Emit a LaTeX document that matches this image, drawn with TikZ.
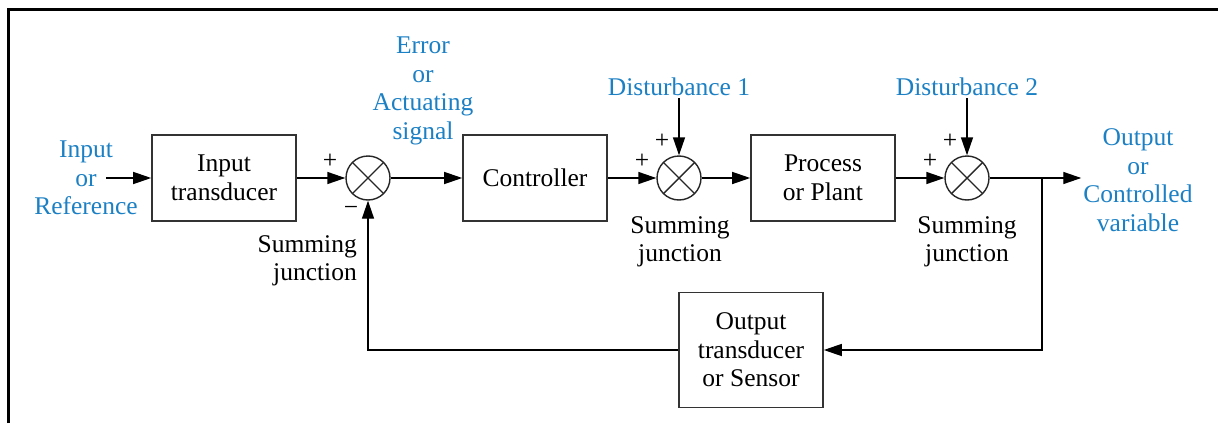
\documentclass[tikz,border=0pt]{standalone}
\usepackage{fontspec}
\setmainfont{Liberation Serif}
\usetikzlibrary{arrows.meta,positioning}
\definecolor{sigblue}{RGB}{28,128,196}

\tikzset{
  blk/.style={draw=black!80,line width=1.6pt,minimum width=144pt,minimum height=86pt,align=center,inner sep=0pt},
  sumj/.style={circle,draw=black!85,line width=1.4pt,minimum size=44pt,inner sep=0pt,
    path picture={\draw[line width=1.4pt] (path picture bounding box.north west)--(path picture bounding box.south east)
      (path picture bounding box.north east)--(path picture bounding box.south west);}},
  sig/.style={text=sigblue,align=center,inner sep=2pt},
  wire/.style={line width=1.4pt,-{Triangle[length=18pt,width=12pt]}}
}

\begin{document}
\begin{tikzpicture}[x=1pt,y=-1pt,font=\fontsize{25.5}{28.5}\selectfont]
\useasboundingbox (0,0) rectangle (1218,423);
\draw[line width=3pt] (8,423) -- (8,9) -- (1218,9);
% forward path
\node[blk] (itr) at (224,178) {Input\\transducer};
\node[sumj] (s1) at (368,178) {};
\node[blk] (ctl) at (535,178) {Controller};
\node[sumj] (s2) at (679,178) {};
\node[blk] (plant) at (823,178) {Process\\or Plant};
\node[sumj] (s3) at (967,178) {};
\node[blk,minimum height=115pt] (sens) at (751,350) {Output\\transducer\\or Sensor};
% blue signal names
\node[sig] (inp) at (86,178) {Input\\or\\Reference};
\node[sig] (err) at (423,91) {Error\\or\\Actuating\\signal};
\node[sig] (d1) at (679,87) {Disturbance 1};
\node[sig] (d2) at (967,87) {Disturbance 2};
\node[sig] (out) at (1138,180) {Output\\or\\Controlled\\variable};
\coordinate (inx) at (106,178);
\coordinate (br) at (1042,178);
% junction names and signs
\node[align=right,anchor=east,inner sep=0pt] (sj1) at (357,261) {Summing\\junction};
\node[align=center] (sj2) at (680,242) {Summing\\junction};
\node[align=center] (sj3) at (967,242) {Summing\\junction};
\node (p1) at (330,161) {+};
\node (m1) at (351,211) {−};
\node (p2) at (642,161) {+};
\node (q2) at (662,141) {+};
\node (p3) at (930,161) {+};
\node (q3) at (950,141) {+};
% connectors
\draw[wire] (inx) -- (itr);
\draw[wire] (itr) -- (s1);
\draw[wire] (s1) -- (ctl);
\draw[wire] (ctl) -- (s2);
\draw[wire] (s2) -- (plant);
\draw[wire] (plant) -- (s3);
\draw[wire] (d1) -- (s2);
\draw[wire] (d2) -- (s3);
\draw[wire] (s3) -- (s3 -| out.west);
\draw[wire] (br) |- (sens);
\draw[wire] (sens) -| (s1);
\end{tikzpicture}
\end{document}
